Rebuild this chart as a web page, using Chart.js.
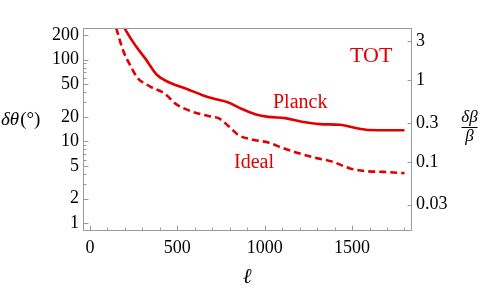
<!DOCTYPE html>
<html>
<head>
<meta charset="utf-8">
<script src="https://cdn.jsdelivr.net/npm/chart.js@4.4.0/dist/chart.umd.min.js"></script>
<style>
  html, body { margin: 0; padding: 0; background: #fff; }
  #wrap { width: 481px; height: 292px; }
</style>
</head>
<body>
<div id="wrap"><canvas id="chart" width="481" height="292"></canvas></div>
<script>
// Werte (l, delta theta in Grad)
const ellPlanck = [170, 199, 260, 317, 384, 451, 565, 641, 716, 792, 869, 945, 1021, 1117, 1212, 1317, 1432, 1508, 1604, 1700, 1800];
const planckValues = [330, 241, 149, 103, 65, 53, 43, 37, 33, 30, 25, 21.6, 20, 19.3, 17.4, 16.3, 16, 14.8, 13.8, 13.7, 13.7];

const ellIdeal = [135, 151, 193, 231, 269, 336, 431, 489, 565, 632, 700, 735, 792, 849, 926, 1021, 1098, 1174, 1279, 1394, 1489, 1585, 1680, 1800];
const idealValues = [330, 241, 124, 85, 61, 48, 38, 29, 24, 21.6, 20, 19.3, 15.5, 12, 10.6, 9.7, 8.4, 7.4, 6.4, 5.6, 4.68, 4.33, 4.25, 4.1];

// Achsen
const xTicks = [0, 500, 1000, 1500];
const xMinorTicks = [100, 200, 300, 400, 600, 700, 800, 900, 1100, 1200, 1300, 1400, 1600, 1700, 1800];
const leftTicks = [1, 2, 5, 10, 20, 50, 100, 200];
const leftMinorTicks = [3, 4, 6, 7, 8, 9, 30, 40, 60, 70, 80, 90];
const rightTicks = [0.03, 0.1, 0.3, 1, 3];

const RED = '#e00000';
const FRAME = '#9a9a9a';
const SERIF = '"Liberation Serif", "DejaVu Serif", serif';

// Rahmen und nach innen zeigende Striche
const framePlugin = {
    id: 'frame',
    afterDatasetsDraw(chart) {
        const ctx = chart.ctx;
        const a = chart.chartArea;
        const s = chart.scales;
        ctx.save();
        ctx.strokeStyle = FRAME;
        ctx.lineWidth = 1;
        ctx.strokeRect(Math.round(a.left) + 0.5, Math.round(a.top) + 0.5,
            Math.round(a.right - a.left) - 1, Math.round(a.bottom - a.top) - 1);

        const line = (x1, y1, x2, y2) => {
            ctx.beginPath();
            ctx.moveTo(x1, y1);
            ctx.lineTo(x2, y2);
            ctx.stroke();
        };
        const b = Math.round(a.bottom) - 0.5;
        const l = Math.round(a.left) + 0.5;
        const r = Math.round(a.right) - 0.5;

        xTicks.forEach(v => {
            const x = Math.round(s.x.getPixelForValue(v)) + 0.5;
            line(x, b, x, b - 5);
        });
        xMinorTicks.forEach(v => {
            const x = Math.round(s.x.getPixelForValue(v)) + 0.5;
            line(x, b, x, b - 3);
        });
        leftTicks.forEach(v => {
            const y = Math.round(s.y.getPixelForValue(v)) + 0.5;
            line(l, y, l + 5, y);
        });
        leftMinorTicks.forEach(v => {
            const y = Math.round(s.y.getPixelForValue(v)) + 0.5;
            line(l, y, l + 3, y);
        });
        rightTicks.forEach(v => {
            const y = Math.round(s.y2.getPixelForValue(v)) + 0.5;
            line(r, y, r - 4, y);
        });
        ctx.restore();
    }
};

// Beschriftungen
const labelPlugin = {
    id: 'labels',
    afterDraw(chart) {
        const ctx = chart.ctx;
        ctx.save();
        ctx.textBaseline = 'alphabetic';

        // Kurvennamen
        ctx.fillStyle = RED;
        ctx.textAlign = 'left';
        ctx.font = '22px ' + SERIF;
        ctx.fillText('TOT', 350, 62);
        ctx.font = '20px ' + SERIF;
        ctx.fillText('Planck', 273, 108);
        ctx.fillText('Ideal', 234, 168);

        // Achsentitel
        ctx.fillStyle = '#000';
        ctx.font = 'italic 19px ' + SERIF;
        ctx.fillText('\u03b4\u03b8', 1, 125);
        const w = ctx.measureText('\u03b4\u03b8').width;
        ctx.font = '19px ' + SERIF;
        ctx.fillText('(\u00b0)', 1 + w + 1, 125);

        ctx.textAlign = 'center';
        ctx.font = 'italic 17px ' + SERIF;
        ctx.fillText('\u03b4\u03b2', 469.5, 122);
        ctx.fillText('\u03b2', 469.5, 141);
        ctx.strokeStyle = '#000';
        ctx.lineWidth = 1;
        ctx.beginPath();
        ctx.moveTo(461.5, 127.5);
        ctx.lineTo(477.5, 127.5);
        ctx.stroke();

        ctx.font = 'italic 21px ' + SERIF;
        ctx.fillText('\u2113', 247, 283);
        ctx.restore();
    }
};

function toPoints(xs, ys) {
    return xs.map((x, i) => ({ x: x, y: ys[i] }));
}

const tickFont = { family: SERIF, size: 18 };

new Chart(document.getElementById('chart'), {
    type: 'line',
    data: {
        datasets: [
            {
                label: 'Planck',
                data: toPoints(ellPlanck, planckValues),
                borderColor: RED,
                borderWidth: 2.6,
                pointRadius: 0,
                cubicInterpolationMode: 'monotone',
                yAxisID: 'y'
            },
            {
                label: 'Ideal',
                data: toPoints(ellIdeal, idealValues),
                borderColor: RED,
                borderWidth: 2.6,
                borderDash: [7, 4],
                pointRadius: 0,
                cubicInterpolationMode: 'monotone',
                yAxisID: 'y'
            }
        ]
    },
    options: {
        responsive: false,
        animation: false,
        layout: { padding: { top: 28, left: 0, right: 0, bottom: 0 } },
        plugins: {
            legend: { display: false },
            tooltip: { enabled: false }
        },
        scales: {
            x: {
                type: 'linear',
                min: -40,
                max: 1843,
                grid: { display: false, drawTicks: false },
                border: { display: false },
                ticks: { color: '#000', font: tickFont, padding: 6, maxRotation: 0, callback: v => String(v) },
                afterBuildTicks: scale => { scale.ticks = xTicks.map(v => ({ value: v })); },
                afterFit: scale => { scale.height = 61; }
            },
            y: {
                type: 'logarithmic',
                position: 'left',
                min: 0.805,
                max: 244,
                grid: { display: false, drawTicks: false },
                border: { display: false },
                ticks: { color: '#000', font: tickFont, padding: 4, callback: v => String(v) },
                afterBuildTicks: scale => { scale.ticks = leftTicks.map(v => ({ value: v })); },
                afterFit: scale => { scale.width = 83; }
            },
            y2: {
                type: 'logarithmic',
                position: 'right',
                min: 0.01427,
                max: 4.33,
                grid: { display: false, drawTicks: false },
                border: { display: false },
                ticks: { color: '#000', font: tickFont, padding: 4, callback: v => String(v) },
                afterBuildTicks: scale => { scale.ticks = rightTicks.map(v => ({ value: v })); },
                afterFit: scale => { scale.width = 69; }
            }
        }
    },
    plugins: [framePlugin, labelPlugin]
});
</script>
</body>
</html>
